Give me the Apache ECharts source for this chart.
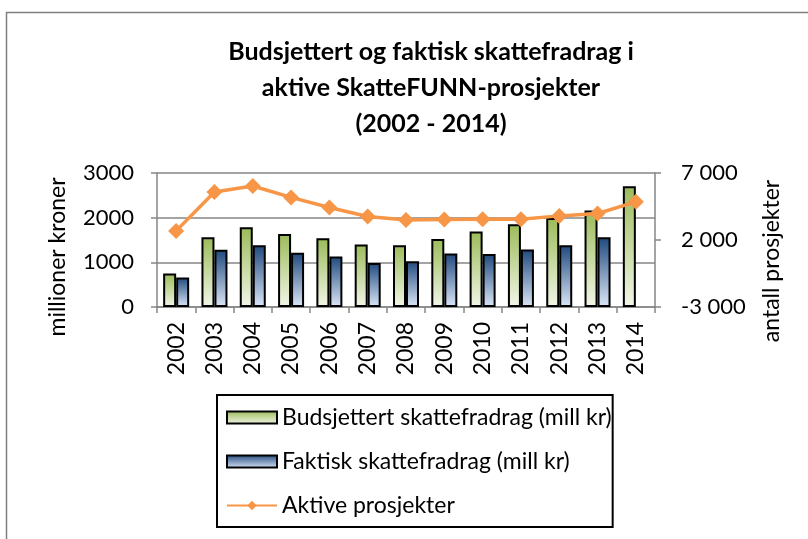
<!DOCTYPE html>
<html>
<head>
<meta charset="utf-8">
<script src="https://cdn.jsdelivr.net/npm/echarts@6/dist/echarts.min.js"></script>
<style>
html,body{margin:0;padding:0;background:#fff;}
#c{width:808px;height:539px;}
</style>
</head>
<body>
<div id="c"></div>
<script>
var years = ['2002','2003','2004','2005','2006','2007','2008','2009','2010','2011','2012','2013','2014'];
var budsjettert = [750,1560,1785,1635,1540,1400,1380,1520,1690,1850,1990,2160,2705];
var faktisk = [660,1280,1380,1215,1130,985,1025,1200,1185,1290,1385,1560,null];
var aktive = [2680,5580,6030,5180,4430,3750,3500,3530,3550,3550,3800,3980,4850];
var leftTicks = {min:0, max:3000, interval:1000};
var rightTicks = {min:-3000, max:7000, interval:5000};
var leftAxisName = 'millioner kroner';
var rightAxisName = 'antall prosjekter';

var FONT = 'Lato';
var chart = echarts.init(document.getElementById('c'), null, {renderer:'canvas'});

function spaceThousands(v){
  var s = Math.abs(v).toString().replace(/\B(?=(\d{3})+(?!\d))/g, ' ');
  return (v < 0 ? '-' : '') + s;
}
var gray = '#868686';

chart.setOption({
  backgroundColor:'#fff',
  animation:false,
  textStyle:{fontFamily:FONT},
  title:{
    text:'Budsjettert og faktisk skattefradrag i\naktive SkatteFUNN-prosjekter\n(2002 - 2014)',
    left:426, top:29, textAlign:'center',
    textStyle:{fontFamily:FONT, fontWeight:'bold', fontSize:25, lineHeight:36, color:'#000'}
  },
  graphic:[{
    type:'rect', shape:{x:6.5, y:12.5, width:1000, height:1000},
    style:{fill:null, stroke:'#7f7f7f', lineWidth:1.5}, silent:true, z:-1
  },{
    type:'text', x:58, y:257, rotation:Math.PI/2,
    style:{text:leftAxisName, font:'23px ' + FONT, fill:'#000', textAlign:'center', textVerticalAlign:'middle'},
    silent:true
  },{
    type:'text', x:772, y:261, rotation:Math.PI/2,
    style:{text:rightAxisName, font:'23px ' + FONT, fill:'#000', textAlign:'center', textVerticalAlign:'middle'},
    silent:true
  }],
  grid:{left:157, right:153, top:173, bottom:232, containLabel:false},
  legend:{
    orient:'vertical', left:217, top:395,
    itemWidth:50, itemHeight:12, itemGap:21,
    padding:[11,1,10,9],
    borderColor:'#000', borderWidth:2,
    textStyle:{fontFamily:FONT, fontSize:23, color:'#000'},
    data:[
      {name:'Budsjettert skattefradrag (mill kr)', icon:'rect'},
      {name:'Faktisk skattefradrag (mill kr)', icon:'rect'},
      {name:'Aktive prosjekter'}
    ]
  },
  xAxis:{
    type:'category', data:years,
    axisLine:{lineStyle:{color:gray, width:1.5}},
    axisTick:{show:true, alignWithLabel:false, length:6, lineStyle:{color:gray, width:1.5}},
    axisLabel:{rotate:90, fontSize:23, color:'#000', margin:15, fontFamily:FONT}
  },
  yAxis:[{
    type:'value', min:leftTicks.min, max:leftTicks.max, interval:leftTicks.interval,
    axisLine:{show:true, lineStyle:{color:gray, width:1.5}},
    axisTick:{show:true, length:6, lineStyle:{color:gray, width:1.5}},
    axisLabel:{fontSize:22, color:'#000', margin:23, fontFamily:FONT, formatter:function(v){return String(v);}},
    splitLine:{show:true, lineStyle:{color:gray, width:1.5}}
  },{
    type:'value', min:rightTicks.min, max:rightTicks.max, interval:rightTicks.interval,
    position:'right',
    axisLine:{show:true, lineStyle:{color:gray, width:1.5}},
    axisTick:{show:true, length:6, lineStyle:{color:gray, width:1.5}},
    axisLabel:{fontSize:22, color:'#000', margin:26, fontFamily:FONT, formatter:spaceThousands},
    splitLine:{show:false}
  }],
  series:[{
    name:'Budsjettert skattefradrag (mill kr)', type:'bar', data:budsjettert,
    barWidth:13, barGap:'0%',
    itemStyle:{
      color:new echarts.graphic.LinearGradient(0,0,0,1,[{offset:0,color:'#9bbb59'},{offset:1,color:'#f2f6e8'}]),
      borderColor:'#000', borderWidth:2
    }
  },{
    name:'Faktisk skattefradrag (mill kr)', type:'bar', data:faktisk,
    barWidth:13, barGap:'0%',
    itemStyle:{
      color:new echarts.graphic.LinearGradient(0,0,0,1,[{offset:0,color:'#1f497d'},{offset:1,color:'#dce7f8'}]),
      borderColor:'#000', borderWidth:2
    }
  },{
    name:'Aktive prosjekter', type:'line', yAxisIndex:1, data:aktive,
    symbol:'diamond', symbolSize:16,
    lineStyle:{color:'#f79646', width:3.5},
    itemStyle:{color:'#f79646'}
  }]
});
</script>
</body>
</html>
